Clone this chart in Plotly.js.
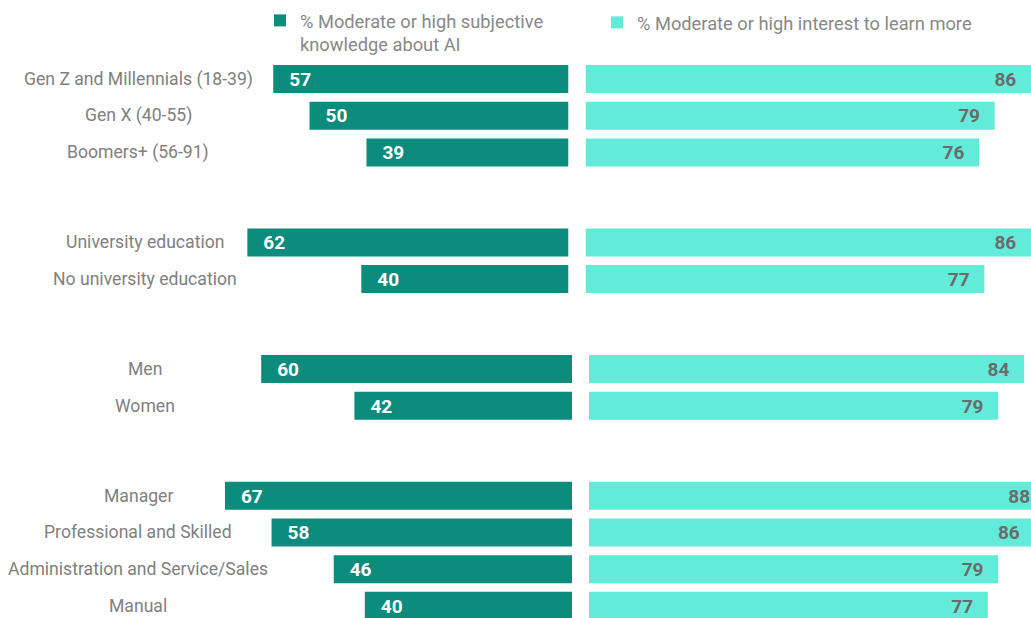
<!DOCTYPE html>
<html>
<head>
<meta charset="utf-8">
<script src="https://cdn.plot.ly/plotly-3.0.1.min.js"></script>
<style>html,body{margin:0;padding:0;background:#fff;}#chart{width:1031px;height:618px;}</style>
</head>
<body>
<div id="chart"></div>
<script>
// ---- data ----
const groupA_labels = ["Gen Z and Millennials (18-39)", "Gen X (40-55)", "Boomers+ (56-91)"];
const groupB_labels = ["University education", "No university education"];
const groupC_labels = ["Men", "Women"];
const groupD_labels = ["Manager", "Professional and Skilled", "Administration and Service/Sales", "Manual"];

const knowledgeA = [57, 50, 39];
const knowledgeB = [62, 40];
const knowledgeC = [60, 42];
const knowledgeD = [67, 58, 46, 40];

const interestA = [86, 79, 76];
const interestB = [86, 77];
const interestC = [84, 79];
const interestD = [88, 86, 79, 77];

const seriesNames = ["% Moderate or high subjective<br>knowledge about AI", "% Moderate or high interest to learn more"];

// ---- layout constants ----
const W = 1031, H = 618;
const PX_PER_UNIT = 5.18;
const ROW_PX = 36.7, FIRST_ROW_PX = 79, GROUP_STEP = 2.452;
const TEXT_DY_PX = 2;
const DARK = "#0b8c7c", LIGHT = "#63ebda";
const LABEL_GRAY = "#808080";
const FONT = "Roboto, Arial, sans-serif";

const groups = [
  {labels: groupA_labels, k: knowledgeA, i: interestA, pair: 0, labelX: 138},
  {labels: groupB_labels, k: knowledgeB, i: interestB, pair: 0, labelX: 145},
  {labels: groupC_labels, k: knowledgeC, i: interestC, pair: 1, labelX: 145},
  {labels: groupD_labels, k: knowledgeD, i: interestD, pair: 1, labelX: 138}
];
// pixel positions of the zero lines for each axis pair
const pairs = [
  {leftZero: 568.5, rightZero: 585.5, xl: "x", xr: "x2"},
  {leftZero: 572, rightZero: 589, xl: "x3", xr: "x4"}
];

// compute row positions
let pos = 0;
groups.forEach((g, gi) => {
  if (gi > 0) pos += GROUP_STEP - 1;
  g.y = g.labels.map(() => { const p = pos; pos += 1; return p; });
});

const barTraces = [];
const textTraces = [];
const annotations = [];
pairs.forEach((p, pi) => {
  const gs = groups.filter(g => g.pair === pi);
  const ys = [].concat(...gs.map(g => g.y));
  const ysText = ys.map(v => v + TEXT_DY_PX / ROW_PX);
  const ks = [].concat(...gs.map(g => g.k));
  const is = [].concat(...gs.map(g => g.i));
  barTraces.push({
    type: "bar", orientation: "h", x: ks, y: ys, xaxis: p.xl, yaxis: "y",
    width: 28 / ROW_PX, marker: {color: DARK}, name: seriesNames[0],
    showlegend: pi === 0, legend: "legend", legendgroup: "k", hoverinfo: "x+y"
  });
  barTraces.push({
    type: "bar", orientation: "h", x: is, y: ys, xaxis: p.xr, yaxis: "y",
    width: 28 / ROW_PX, marker: {color: LIGHT}, name: seriesNames[1],
    showlegend: pi === 0, legend: "legend2", legendgroup: "i", hoverinfo: "x+y"
  });
  // value labels (invisible marker sets the inset from the bar tip)
  textTraces.push({
    type: "scatter", mode: "markers+text", x: ks, y: ysText, xaxis: p.xl, yaxis: "y",
    text: ks.map(String), textposition: "middle right",
    marker: {size: 24, color: "rgba(0,0,0,0)", line: {width: 0}},
    textfont: {family: FONT, size: 19, color: "#ffffff", weight: "bold"},
    showlegend: false, hoverinfo: "skip"
  });
  textTraces.push({
    type: "scatter", mode: "markers+text", x: is, y: ysText, xaxis: p.xr, yaxis: "y",
    text: is.map(String), textposition: "middle left",
    marker: {size: 22, color: "rgba(0,0,0,0)", line: {width: 0}},
    textfont: {family: FONT, size: 19, color: "#6b6b6b", weight: "bold"},
    showlegend: false, hoverinfo: "skip"
  });
});

groups.forEach(g => {
  g.labels.forEach((lab, j) => {
    annotations.push({
      xref: "paper", yref: "y", x: g.labelX / W, y: g.y[j], xanchor: "center", yanchor: "middle",
      text: lab, showarrow: false,
      font: {family: FONT, size: 17.6, color: LABEL_GRAY}
    });
  });
});

function hiddenAxis(extra) {
  return Object.assign({visible: false, showgrid: false, zeroline: false, fixedrange: true, anchor: "y"}, extra);
}

const layout = {
  width: W, height: H,
  margin: {l: 0, r: 0, t: 0, b: 0, pad: 0},
  paper_bgcolor: "#ffffff", plot_bgcolor: "rgba(0,0,0,0)",
  barmode: "overlay",
  xaxis: hiddenAxis({domain: [0, pairs[0].leftZero / W], range: [pairs[0].leftZero / PX_PER_UNIT, 0]}),
  xaxis2: hiddenAxis({domain: [pairs[0].rightZero / W, 1], range: [0, (W - pairs[0].rightZero) / PX_PER_UNIT]}),
  xaxis3: hiddenAxis({domain: [0, pairs[1].leftZero / W], range: [pairs[1].leftZero / PX_PER_UNIT, 0]}),
  xaxis4: hiddenAxis({domain: [pairs[1].rightZero / W, 1], range: [0, (W - pairs[1].rightZero) / PX_PER_UNIT]}),
  yaxis: {visible: false, showgrid: false, zeroline: false, fixedrange: true,
          range: [(H - FIRST_ROW_PX) / ROW_PX, -FIRST_ROW_PX / ROW_PX]},
  legend: {x: 260 / W, y: 1 - 2 / H, xanchor: "left", yanchor: "top", bgcolor: "rgba(0,0,0,0)",
           valign: "top", font: {family: FONT, size: 18.3, color: "#888888"}},
  legend2: {x: 597 / W, y: 1 - 4 / H, xanchor: "left", yanchor: "top", bgcolor: "rgba(0,0,0,0)",
            valign: "top", font: {family: FONT, size: 18.3, color: "#888888"}},
  annotations: annotations,
  showlegend: true
};

Plotly.newPlot("chart", barTraces.concat(textTraces), layout, {displayModeBar: false, staticPlot: true});
</script>
</body>
</html>
